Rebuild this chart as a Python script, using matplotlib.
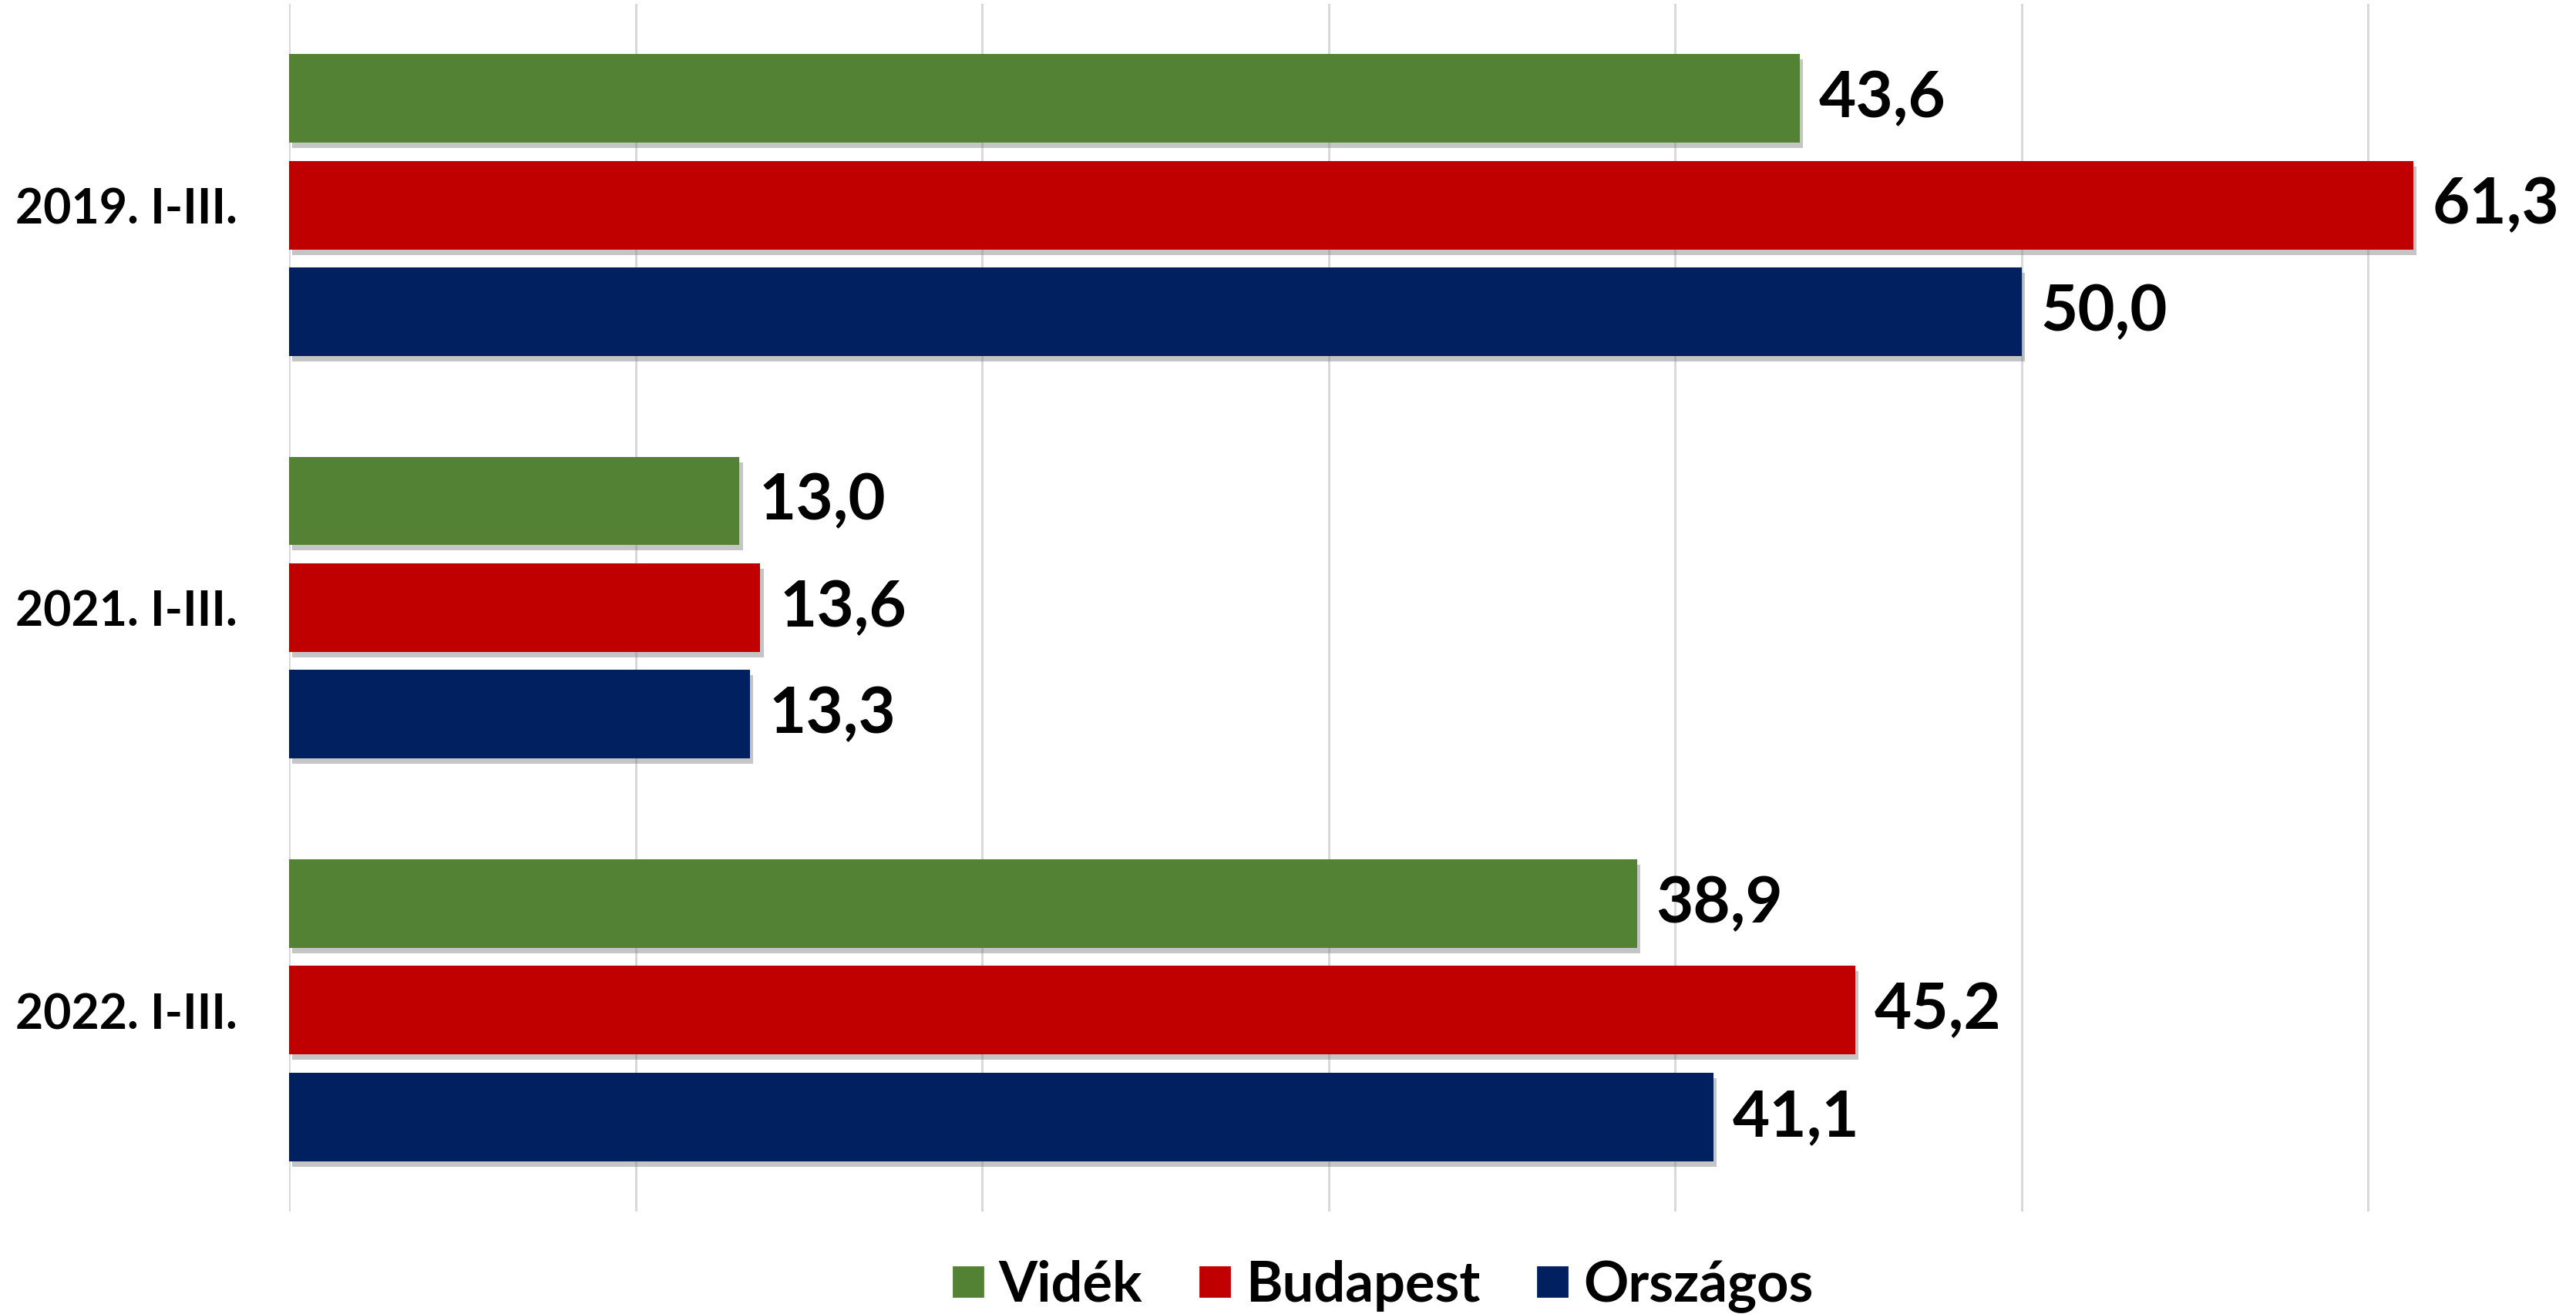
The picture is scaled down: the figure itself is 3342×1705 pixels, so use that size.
import matplotlib
matplotlib.use("Agg")
import matplotlib.pyplot as plt
import matplotlib.patheffects as pe
from matplotlib.lines import Line2D
import numpy as np

categories = ["2019. I-III.", "2021. I-III.", "2022. I-III."]
series_names = ["Vidék", "Budapest", "Országos"]
videk = [43.6, 13.0, 38.9]
budapest = [61.3, 13.6, 45.2]
orszagos = [50.0, 13.3, 41.1]
series_values = [videk, budapest, orszagos]
colors = ["#548235", "#C00000", "#002060"]

plt.rcParams['font.family'] = ['Lato', 'DejaVu Sans']

fig = plt.figure(figsize=(3342/200, 1706/200), dpi=200)
ax = fig.add_axes([0.1122, 0.078, 0.8878, 0.9185])

y = np.arange(len(categories))
bar_h = 0.22
offsets = [-0.265, 0.0, 0.265]
shadow = [pe.SimplePatchShadow(offset=(1.5, -2.5), shadow_rgbFace='#808080', alpha=0.45), pe.Normal()]

for vals, off, col in zip(series_values, offsets, colors):
    bars = ax.barh(y + off, vals, height=bar_h, color=col, zorder=3)
    for b, v in zip(bars, vals):
        b.set_path_effects(shadow)
        ax.text(v + 0.55, b.get_y() + b.get_height() / 2, f"{v:.1f}".replace(".", ","),
                va="center", ha="left", fontsize=30, fontweight="bold", color="black", zorder=4)

ax.set_xlim(0, 66)
ax.set_ylim(2.5, -0.5)
ax.set_xticks(np.arange(0, 70, 10))
ax.set_xticklabels([])
ax.set_yticks(y)
ax.set_yticklabels(categories, fontsize=22.5, fontweight="bold")
ax.tick_params(axis="both", length=0)
ax.tick_params(axis="y", pad=24)
ax.grid(axis="x", color="#D9D9D9", linewidth=1.1, zorder=0)
for s in ax.spines.values():
    s.set_visible(False)

handles = [Line2D([], [], marker="s", linestyle="none", markersize=14, markerfacecolor=c,
                  markeredgecolor=c) for c in colors]
fig.legend(handles, series_names, loc="center", bbox_to_anchor=(0.5366, 0.0215), ncol=3,
           frameon=False, prop={"size": 26, "weight": "bold"}, handletextpad=0.25,
           columnspacing=1.0, handlelength=0.6)

fig.savefig("out.png", dpi=200, facecolor="white")
